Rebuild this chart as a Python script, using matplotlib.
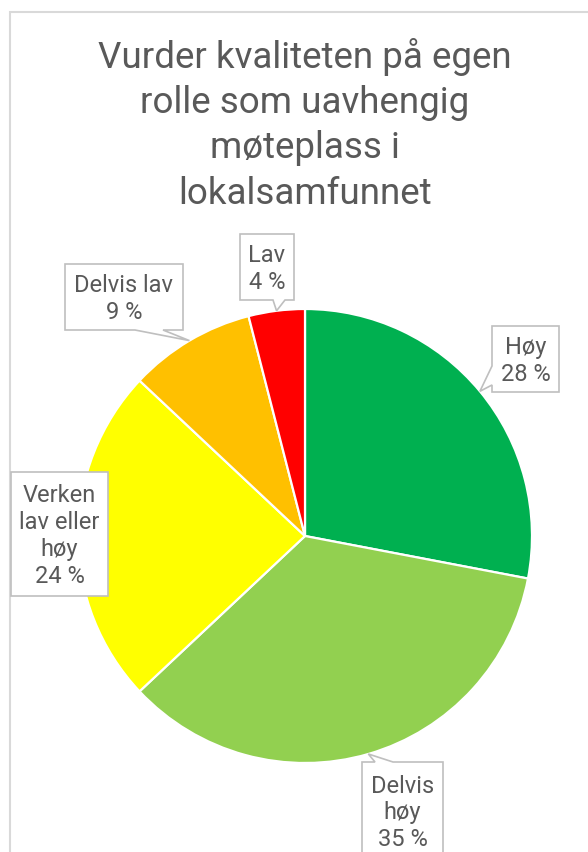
import numpy as np
import matplotlib.pyplot as plt
from matplotlib.patches import Polygon, Rectangle

plt.rcParams['font.family'] = ['Roboto', 'DejaVu Sans']

W, H = 588, 853

title = 'Vurder kvaliteten på egen\nrolle som uavhengig\nmøteplass i\nlokalsamfunnet'
names = ['Høy', 'Delvis\nhøy', 'Verken\nlav eller\nhøy', 'Delvis lav', 'Lav']
values = [28, 35, 24, 9, 4]
colors = ['#00B050', '#92D050', '#FFFF00', '#FFC000', '#FF0000']

# callout layout in pixel coords (y down): box, text centre, pointer side and base
boxes = [(492, 327, 559, 393), (362, 763, 443, 880), (11, 473, 108, 597),
         (65, 265, 183, 331), (240, 235, 294, 301)]
text_pos = [(525.5, 361), (402.5, 813), (59.5, 536), (124, 299), (267, 269)]
pointer = [('left', 367, 386), ('top', 375, 393), (None, 0, 0),
           ('bottom', 135, 163), ('bottom', 273, 285)]

txt_col = '#595959'
line_col = '#BFBFBF'

fig = plt.figure(figsize=(W / 100, H / 100), dpi=100)
ax = fig.add_axes([0, 0, 1, 1])

cx, cy, r = 305, 537, 227
wedges, _ = ax.pie(values, colors=colors, startangle=90, counterclock=False,
                   center=(cx, H - cy), radius=r,
                   wedgeprops=dict(edgecolor='white', linewidth=1.6))
ax.set_xlim(0, W)
ax.set_ylim(0, H)
ax.set_aspect('auto')
ax.axis('off')

# chart area border
ax.add_patch(Rectangle((9.5, -50), 700, H - 12.5 + 50, fill=False,
                       edgecolor='#D9D9D9', linewidth=1.5, zorder=0))

ax.text(305, H - 38, title, ha='center', va='top', fontsize=26.5,
        color=txt_col, linespacing=1.33)


def callout(box, side, b0, b1, tip):
    x0, y0, x1, y1 = box
    pts = [(x0, y0)]
    if side == 'top':
        pts += [(b0, y0), tip, (b1, y0)]
    pts += [(x1, y0)]
    if side == 'right':
        pts += [(x1, b0), tip, (x1, b1)]
    pts += [(x1, y1)]
    if side == 'bottom':
        pts += [(b1, y1), tip, (b0, y1)]
    pts += [(x0, y1)]
    if side == 'left':
        pts += [(x0, b1), tip, (x0, b0)]
    pts = [(x, H - y) for x, y in pts]
    ax.add_patch(Polygon(pts, closed=True, facecolor='white',
                         edgecolor=line_col, linewidth=1.2, zorder=3))


for i, w in enumerate(wedges):
    mid = np.deg2rad((w.theta1 + w.theta2) / 2)
    tip = (cx + r * np.cos(mid), cy - r * np.sin(mid))
    side, b0, b1 = pointer[i]
    callout(boxes[i], side, b0, b1, tip)
    tx, ty = text_pos[i]
    ax.text(tx, H - ty, f'{names[i]}\n{values[i]} %', ha='center', va='center',
            fontsize=17, color=txt_col, linespacing=1.22, zorder=4)

fig.savefig('out.png', dpi=100, facecolor='white')
